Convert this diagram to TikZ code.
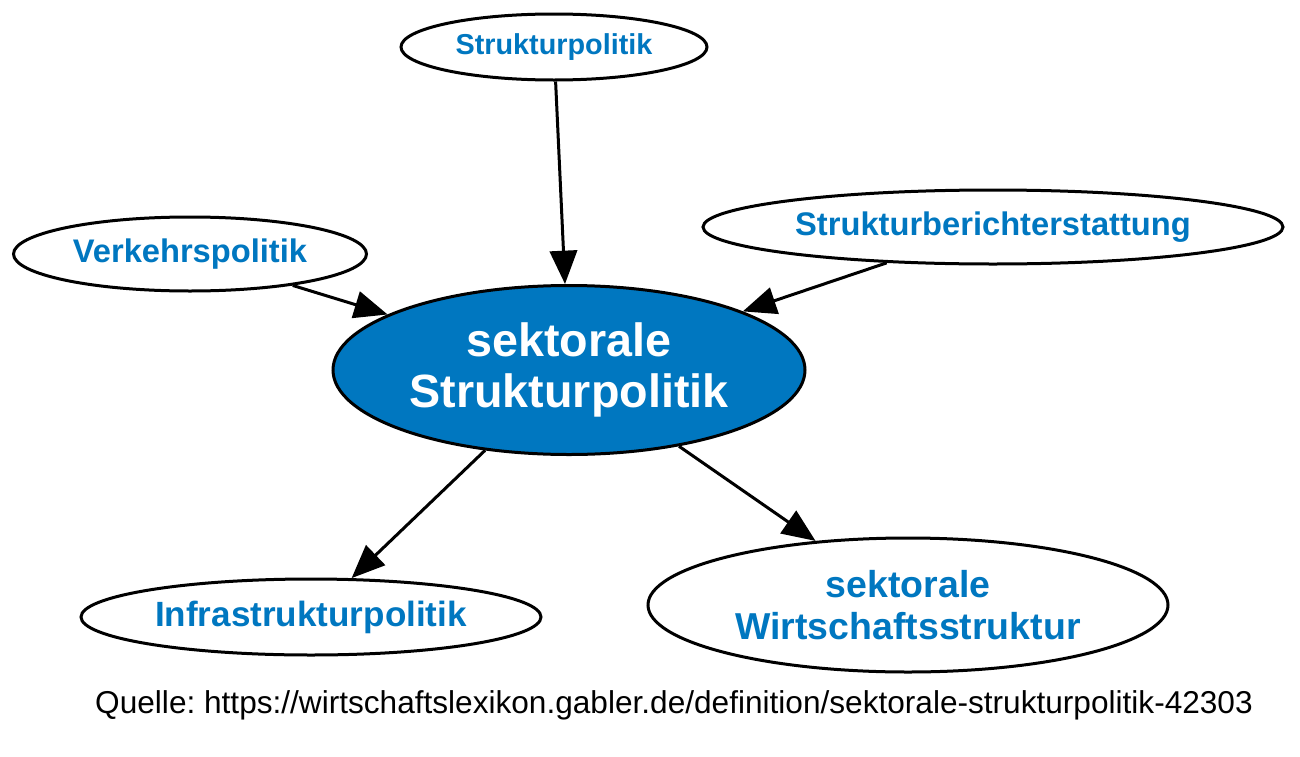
\documentclass[tikz,border=0pt]{standalone}
\usepackage{fontspec}
\setmainfont{Liberation Sans}
\usetikzlibrary{shapes.geometric,arrows.meta}
\definecolor{gblue}{HTML}{0077C0}
\frenchspacing
\tikzset{
  concept/.style={ellipse, draw=black, line width=2.25pt, fill=white, inner sep=0pt, text=gblue, font=\bfseries, align=center},
  mainconcept/.style={concept, fill=gblue, text=white},
  link/.style={draw=black, line width=2.25pt, -{Triangle[length=25pt,width=20.5pt]}}
}
\begin{document}
\begin{tikzpicture}[x=0.75pt,y=-0.75pt]
\useasboundingbox (0,0) rectangle (1300,757);
\node[mainconcept, minimum width=354pt, minimum height=126.75pt, font=\bfseries\fontsize{35}{38}\selectfont] (main) at (569,370) {sektorale\\Strukturpolitik};
\node[concept, minimum width=229.5pt, minimum height=49.5pt, font=\bfseries\fontsize{21.6}{24}\selectfont] (sp) at (554,47) {Strukturpolitik};
\node[concept, minimum width=264.75pt, minimum height=55.5pt, font=\bfseries\fontsize{24.5}{27}\selectfont] (vp) at (190,254) {Verkehrspolitik};
\node[concept, minimum width=435pt, minimum height=55.5pt, font=\bfseries\fontsize{24.5}{27}\selectfont] (sb) at (993,227) {Strukturberichterstattung};
\node[concept, minimum width=345pt, minimum height=57pt, font=\bfseries\fontsize{26.3}{29}\selectfont] (ip) at (311,617) {Infrastrukturpolitik};
\node[concept, minimum width=390pt, minimum height=100.5pt, font=\bfseries\fontsize{28.1}{31}\selectfont] (sw) at (908,605) {sektorale\\Wirtschaftsstruktur};
\node[anchor=base, inner sep=0pt, font=\fontsize{23.7}{26}\selectfont] (src) at (674,713) {Quelle: https://wirtschaftslexikon.gabler.de/definition/sektorale-strukturpolitik-42303};
\draw[link] (sp) -- (main);
\draw[link] (vp) -- (main);
\draw[link] (sb) -- (main);
\draw[link] (main) -- (ip);
\draw[link] (main) -- (sw);
\end{tikzpicture}
\end{document}
